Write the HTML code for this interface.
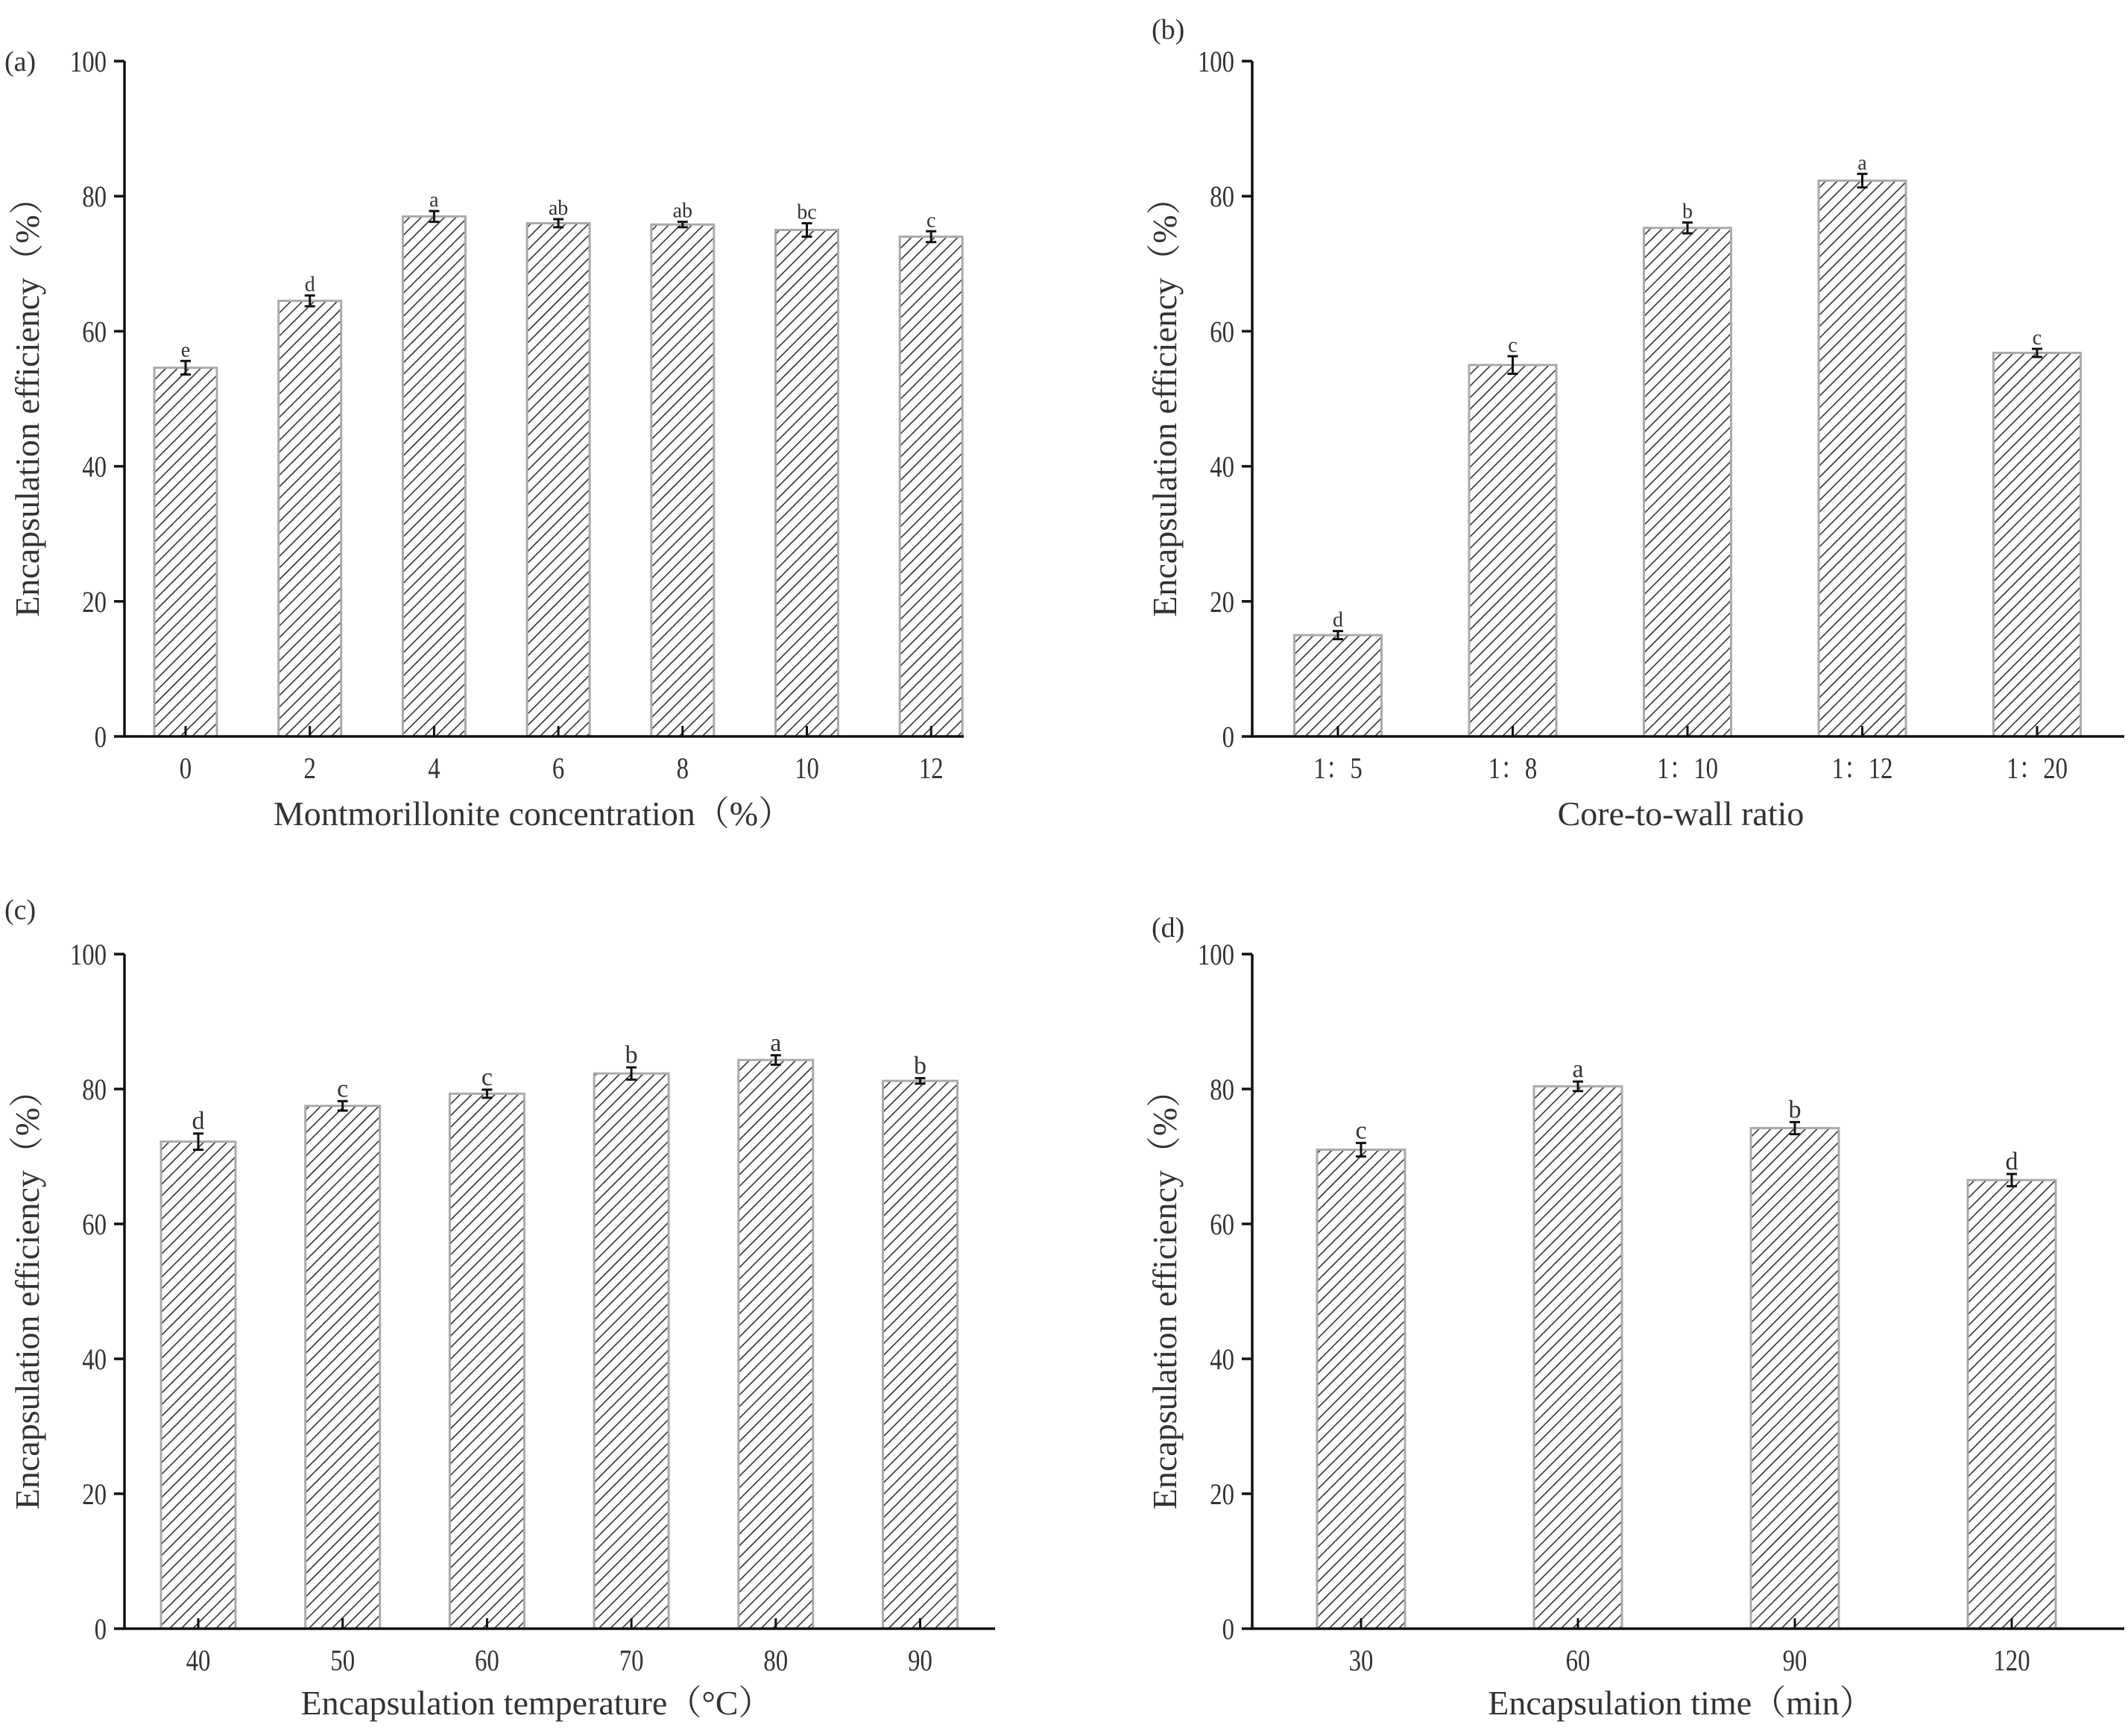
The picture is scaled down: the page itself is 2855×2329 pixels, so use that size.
<!DOCTYPE html>
<html><head><meta charset="utf-8"><style>
body{margin:0;background:#fff}
svg text{font-family:"Liberation Serif","Noto Serif CJK SC",serif;fill:#333}
</style></head><body>
<svg id="fig" width="2855" height="2324" viewBox="0 0 2855 2324" xmlns="http://www.w3.org/2000/svg">
<defs>
<pattern id="hatch" patternUnits="userSpaceOnUse" width="11" height="11" patternTransform="rotate(45)">
<rect width="11" height="11" fill="#fff"/>
<line x1="0" y1="0" x2="0" y2="11" stroke="#333" stroke-width="3.2"/>
</pattern>
</defs>
</svg>
<script>
const catsA=["0","2","4","6","8","10","12"];
const valsA=[54.6,64.5,77,76,75.8,75,74];
const errA=[1,0.8,0.8,0.6,0.4,1,0.8];
const letA=["e","d","a","ab","ab","bc","c"];
const catsB=["1：5","1：8","1：10","1：12","1：20"];
const valsB=[15,55,75.3,82.3,56.8];
const errB=[0.6,1.3,0.8,1,0.6];
const letB=["d","c","b","a","c"];
const catsC=["40","50","60","70","80","90"];
const valsC=[72.2,77.5,79.3,82.3,84.3,81.2];
const errC=[1.2,0.7,0.6,0.9,0.7,0.4];
const letC=["d","c","c","b","a","b"];
const catsD=["30","60","90","120"];
const valsD=[71,80.4,74.2,66.5];
const errD=[1,0.7,0.9,0.9];
const letD=["c","a","b","d"];
const yTicks=[0,20,40,60,80,100];

const svg=document.getElementById('fig');
const NS='http://www.w3.org/2000/svg';
function mk(tag,attrs,parent,txt){const e=document.createElementNS(NS,tag);for(const k in attrs)e.setAttribute(k,attrs[k]);if(txt!==undefined)e.textContent=txt;(parent||svg).appendChild(e);return e;}

function panel(o){
  const g=mk('g',{},svg);
  
  
  const y=v=>o.y0-(v/100)*(o.y0-o.y100);
  const x=i=>o.c0+i*o.step;
  o.vals.forEach((v,i)=>{
    const r=mk('rect',{x:x(i)-o.bw/2,y:y(v),width:o.bw,height:o.y0-y(v),fill:'url(#hatch)',stroke:'#aaa','stroke-width':3},g);
    
    
    const e=o.err[i],cx=x(i),t=y(v+e),b=y(v-e);
    const eb=mk('path',{d:`M${cx},${t}V${b}M${cx-7},${t}H${cx+7}M${cx-7},${b}H${cx+7}`,stroke:'#111','stroke-width':3,fill:'none'},g);
    
    
    const l=mk('text',{x:cx,y:t-6,'text-anchor':'middle','font-size':o.lf,fill:'#444'},g,o.lets[i]);
    
    
    mk('line',{x1:cx,x2:cx,y1:o.y0,y2:o.y0-14,stroke:'#111','stroke-width':3},g);
    const tl=mk('text',{x:0,y:0,'text-anchor':'middle','font-size':40,transform:`translate(${cx},${o.y0+56}) scale(0.82,1)`},g,o.cats[i]);
    
    
  });
  const ax=mk('path',{d:`M${o.ax},${o.y100}V${o.y0}H${o.xr}`,stroke:'#111','stroke-width':3.5,fill:'none'},g);
  
  
  yTicks.forEach(t=>{
    mk('line',{x1:o.ax-14,x2:o.ax,y1:y(t),y2:y(t),stroke:'#111','stroke-width':3.5},g);
    const tl=mk('text',{x:0,y:0,'text-anchor':'end','font-size':40,transform:`translate(${o.ax-24},${y(t)+14}) scale(0.82,1)`},g,String(t));
    
    
  });
  const yt=mk('text',{x:0,y:0,'text-anchor':'middle','font-size':46,transform:`translate(${o.ytx},${(o.y0+o.y100)/2}) rotate(-90)`},g,'Encapsulation efficiency（%）');
  
  
  const xt=mk('text',{x:o.xtx,y:o.xty,'text-anchor':'middle','font-size':46},g,o.xtitle);
  
  
  const pl=mk('text',{x:o.plx,y:o.ply,'font-size':38},g,'('+o.id+')');
  
  
}
panel({id:'a',cats:catsA,vals:valsA,err:errA,lets:letA,ax:167,xr:1293,y0:988,y100:82,c0:249,step:166.7,bw:84,lf:28,ytx:52,xtx:715,xty:1107,xtitle:'Montmorillonite concentration（%）',plx:6,ply:95});
panel({id:'b',cats:catsB,vals:valsB,err:errB,lets:letB,ax:1680,xr:2850,y0:988,y100:82,c0:1795,step:234.5,bw:117,lf:28,ytx:1578,xtx:2255,xty:1107,xtitle:'Core-to-wall ratio',plx:1545,ply:52});
panel({id:'c',cats:catsC,vals:valsC,err:errC,lets:letC,ax:167,xr:1335,y0:2185,y100:1280,c0:266,step:193.7,bw:100,lf:34,ytx:52,xtx:720,xty:2300,xtitle:'Encapsulation temperature（°C）',plx:6,ply:1233});
panel({id:'d',cats:catsD,vals:valsD,err:errD,lets:letD,ax:1680,xr:2850,y0:2185,y100:1280,c0:1826,step:291,bw:118,lf:34,ytx:1578,xtx:2255,xty:2300,xtitle:'Encapsulation time（min）',plx:1545,ply:1257});
</script>
</body></html>
